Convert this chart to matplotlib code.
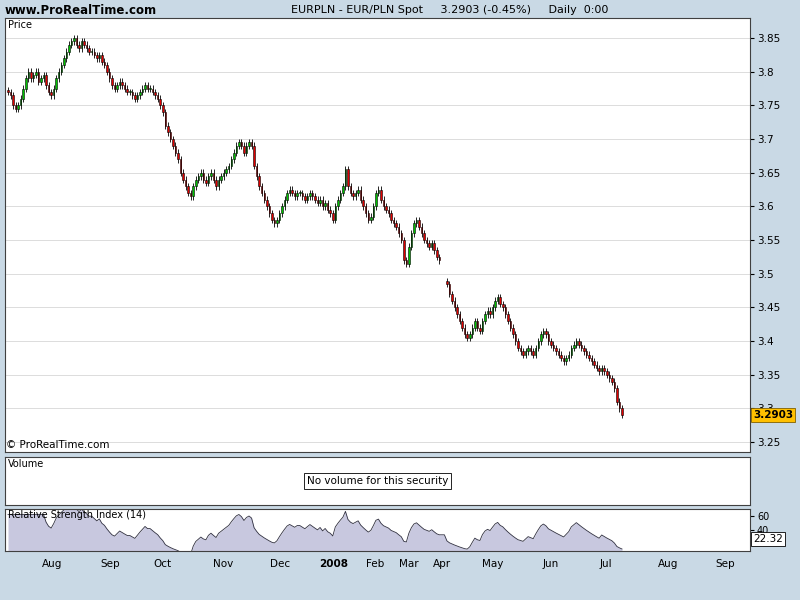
import numpy as np
import pandas as pd
import matplotlib
matplotlib.use("Agg")
import matplotlib.pyplot as plt
from matplotlib.patches import Rectangle

# ── Data (daily closes, Jul 2007 – Jul 2008) ─────────────────────────────────
jul07 = [3.77, 3.765, 3.75, 3.745, 3.75, 3.76, 3.775, 3.79, 3.80, 3.79, 3.795, 3.80]
aug07 = [3.785, 3.79, 3.795, 3.78, 3.77, 3.765, 3.775, 3.79, 3.80, 3.81, 3.82, 3.83,
         3.84, 3.845, 3.85, 3.84, 3.835, 3.845, 3.84, 3.835, 3.83, 3.83, 3.825]
sep07 = [3.82, 3.825, 3.815, 3.81, 3.80, 3.79, 3.78, 3.775, 3.78, 3.785, 3.78, 3.775,
         3.77, 3.77, 3.765, 3.76, 3.765, 3.77, 3.775, 3.78]
oct07 = [3.775, 3.775, 3.77, 3.765, 3.76, 3.75, 3.74, 3.72, 3.71, 3.70, 3.69, 3.68,
         3.67, 3.65, 3.64, 3.63, 3.62, 3.615, 3.63, 3.64, 3.645, 3.65, 3.64]
nov07 = [3.635, 3.645, 3.65, 3.64, 3.63, 3.64, 3.645, 3.65, 3.655, 3.66, 3.67, 3.68,
         3.69, 3.695, 3.69, 3.68, 3.69, 3.695, 3.69, 3.66, 3.645, 3.63]
dec07 = [3.62, 3.61, 3.60, 3.59, 3.58, 3.575, 3.58, 3.59, 3.60, 3.61, 3.62, 3.625,
         3.62, 3.615, 3.62, 3.62, 3.615, 3.61, 3.615, 3.62, 3.615]
jan08 = [3.61, 3.605, 3.61, 3.60, 3.605, 3.595, 3.59, 3.58, 3.60, 3.61, 3.62, 3.63,
         3.655, 3.63, 3.62, 3.615, 3.62, 3.625, 3.61, 3.60, 3.59, 3.58]
feb08 = [3.585, 3.60, 3.62, 3.625, 3.61, 3.60, 3.595, 3.59, 3.58, 3.575, 3.57, 3.56]
mar08 = [3.55, 3.52, 3.515, 3.54, 3.56, 3.575, 3.58, 3.57, 3.56, 3.55, 3.545, 3.54,
         3.545, 3.535, 3.525, 3.52, None, None]
apr08 = [3.485, 3.47, 3.46, 3.45, 3.44, 3.43, 3.42, 3.41, 3.405, 3.41, 3.42, 3.43,
         3.42, 3.415, 3.43, 3.44, 3.445, 3.44, 3.45, 3.46, 3.465, 3.455]
may08 = [3.45, 3.44, 3.43, 3.42, 3.41, 3.40, 3.39, 3.385, 3.38, 3.385, 3.39, 3.385,
         3.38, 3.39, 3.40, 3.41, 3.415, 3.41, 3.40, 3.395, 3.39]
jun08 = [3.385, 3.38, 3.375, 3.37, 3.375, 3.38, 3.39, 3.395, 3.40, 3.395, 3.39, 3.385,
         3.38, 3.375, 3.37, 3.365, 3.36, 3.355, 3.36, 3.355, 3.35]
jul08 = [3.345, 3.34, 3.33, 3.31, 3.30, 3.2903]

month_labels = ["Aug", "Sep", "Oct", "Nov", "Dec", "2008", "Feb", "Mar", "Apr",
                "May", "Jun", "Jul", "Aug", "Sep"]
month_label_px = [52, 110, 162, 223, 280, 334, 375, 409, 442, 493, 551, 606, 668, 725]
price_ticks = [3.25, 3.30, 3.35, 3.40, 3.45, 3.50, 3.55, 3.60, 3.65, 3.70, 3.75, 3.80, 3.85]
last_price = 3.2903
last_rsi_label = "22.32"

closes = np.array([np.nan if v is None else v
                   for m in [jul07, aug07, sep07, oct07, nov07, dec07, jan08, feb08,
                             mar08, apr08, may08, jun08, jul08] for v in m], dtype=float)

# ── Derived OHLC and RSI ─────────────────────────────────────────────────────
opens = np.concatenate([[closes[0] + 0.003], closes[:-1]])
opens = np.where(np.isnan(opens), closes + 0.004, opens)
wick = 0.005
highs = np.fmax(opens, closes) + wick
lows = np.fmin(opens, closes) - wick

s = pd.Series(closes).ffill()
delta = s.diff().fillna(0)
gain = delta.clip(lower=0).ewm(alpha=1 / 14, adjust=False).mean()
loss = (-delta.clip(upper=0)).ewm(alpha=1 / 14, adjust=False).mean()
rsi = 100 * gain / (gain + loss)
rsi[:14] = np.nan          # warm-up period: hold first computed value
rsi = rsi.bfill().values

n = len(closes)
x = np.arange(n)
# pixel -> data mapping: first candle at px 8, last at px 622, axes span px 5..750
ppx = (622 - 8) / (n - 1)
x0 = -(8 - 5) / ppx
x1 = x0 + 745 / ppx

# ── Figure ───────────────────────────────────────────────────────────────────
BG = "#c9d9e5"
fig = plt.figure(figsize=(8, 6), dpi=100, facecolor=BG)
plt.rcParams["font.family"] = ["DejaVu Sans"]

def add_ax(top, bottom):
    return fig.add_axes([5 / 800, 1 - bottom / 600, 745 / 800, (bottom - top) / 600])

ax = add_ax(18, 452)
axv = add_ax(457, 505)
axr = add_ax(509, 551)
for a in (ax, axv, axr):
    a.set_facecolor("white")
    a.set_xlim(x0, x1)
    a.set_xticks([])
    for sp in a.spines.values():
        sp.set_color("#404040")
        sp.set_linewidth(0.8)

# price panel
ax.set_ylim(3.2354, 3.8798)
ax.yaxis.tick_right()
ax.set_yticks(price_ticks)
ax.set_yticklabels([f"{t:g}" for t in price_ticks], fontsize=7.5)
ax.tick_params(axis="y", length=3, pad=2)
for t in price_ticks:
    ax.axhline(t, color="#dcdcdc", lw=0.7, zorder=0)

bw = 1.5 / ppx
for i in range(n):
    if np.isnan(closes[i]):
        continue
    o, c = opens[i], closes[i]
    ax.vlines(x[i], lows[i], highs[i], color="black", lw=0.6, zorder=2)
    col = "#00c000" if c >= o else "#e00000"
    ax.add_patch(Rectangle((x[i] - bw / 2, min(o, c)), bw, max(abs(c - o), 0.0008),
                           facecolor=col, edgecolor="black", lw=0.4, zorder=3))

ax.text(0.004, 0.995, "Price", transform=ax.transAxes, fontsize=7, va="top")
ax.text(0.002, 0.005, "© ProRealTime.com", transform=ax.transAxes, fontsize=7.5, va="bottom")
ax.text(1.004, last_price, f"{last_price:.4f}", transform=ax.get_yaxis_transform(),
        fontsize=7.5, fontweight="bold", va="center", ha="left", clip_on=False, zorder=10,
        bbox=dict(boxstyle="square,pad=0.2", fc="#ffc000", ec="#806000", lw=0.6))

# volume panel
axv.set_yticks([])
axv.text(0.004, 0.95, "Volume", transform=axv.transAxes, fontsize=7, va="top")
axv.text(0.5, 0.5, "No volume for this security", transform=axv.transAxes,
         fontsize=7.5, ha="center", va="center",
         bbox=dict(boxstyle="square,pad=0.3", fc="white", ec="black", lw=0.6))

# RSI panel
axr.set_ylim(12, 69)
axr.fill_between(x, 0, rsi, color="#c8c8df", lw=0)
axr.plot(x, rsi, color="#303040", lw=0.6)
axr.yaxis.tick_right()
axr.set_yticks([40, 60])
axr.set_yticklabels(["40", "60"], fontsize=7)
axr.tick_params(axis="y", length=3, pad=2)
axr.text(0.004, 0.98, "Relative Strength Index (14)", transform=axr.transAxes,
         fontsize=7, va="top")
axr.text(1.004, 28, last_rsi_label, transform=axr.get_yaxis_transform(), fontsize=7.5,
         va="center", ha="left", clip_on=False, zorder=10,
         bbox=dict(boxstyle="square,pad=0.2", fc="white", ec="black", lw=0.6))

# month labels
for lab, p in zip(month_labels, month_label_px):
    fig.text(p / 800, 1 - 564 / 600, lab, fontsize=7.5, ha="center", va="center",
             fontweight="bold" if lab == "2008" else "normal")

# header
fig.text(5 / 800, 1 - 10 / 600, "www.ProRealTime.com", fontsize=8.5, fontweight="bold",
         va="center")
fig.text(450 / 800, 1 - 10 / 600,
         "EURPLN - EUR/PLN Spot     3.2903 (-0.45%)     Daily  0:00",
         fontsize=8, ha="center", va="center")

fig.savefig("out.png", dpi=100, facecolor=BG)
